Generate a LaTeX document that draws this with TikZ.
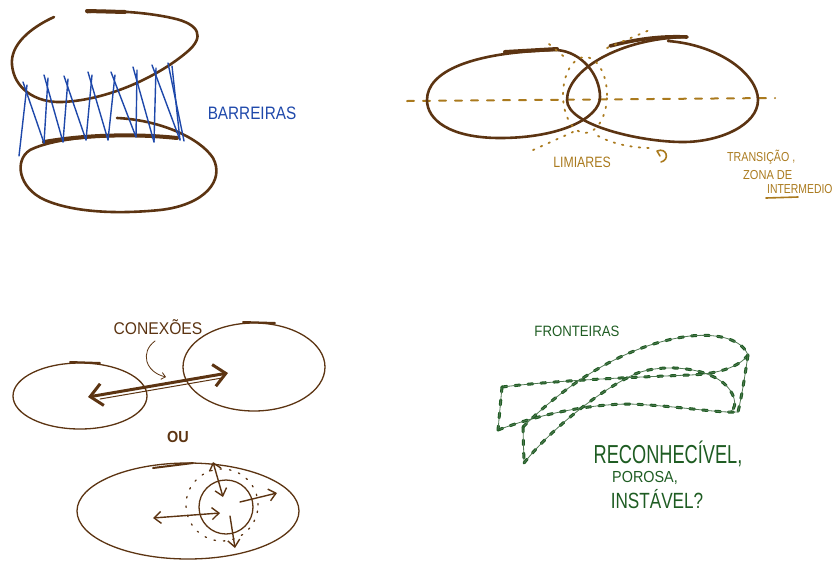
\documentclass[tikz,border=0pt]{standalone}
\usepackage{fontspec}
\usepackage{graphicx}
\setmainfont{Liberation Sans}
\usetikzlibrary{arrows.meta}
\definecolor{sbrown}{RGB}{92,52,18}
\definecolor{sgold}{RGB}{170,122,30}
\definecolor{sblue}{RGB}{30,72,170}
\definecolor{sgreen}{RGB}{30,92,34}
\definecolor{sgreenlt}{RGB}{80,120,82}
\newcommand{\hw}[2]{\scalebox{#1}[1]{#2}}
\begin{document}
\begin{tikzpicture}[x=1pt,y=-1pt,line cap=round,line join=round,
  loopline/.style={draw=sbrown,line width=2.6pt},
  heavy/.style={draw=sbrown,line width=4pt},
  thinloop/.style={draw=sbrown,line width=1.3pt},
  zig/.style={draw=sblue,line width=1.4pt},
  gdash/.style={draw=sgold,line width=2pt,dash pattern=on 7pt off 9pt},
  gdot/.style={draw=sgold,line width=1.8pt,dash pattern=on 1.5pt off 7pt},
  grline/.style={draw=sgreen,line width=3pt,dash pattern=on 5pt off 8pt,
     postaction={draw=sgreenlt,solid,line width=0.8pt}},
  lbl/.style={inner sep=0pt,anchor=center},
  barb/.style={-{Straight Barb[length=7pt,width=12pt]}},
  dbarb/.style={{Straight Barb[length=7pt,width=12pt]}-{Straight Barb[length=7pt,width=12pt]}},
]
\useasboundingbox (0,0) rectangle (833,566);

% ---------------- top-left: barreiras ----------------
\draw[loopline] (54,17) .. controls (30,28) and (10,45) .. (12,65)
  .. controls (14,88) and (35,103) .. (62,102)
  .. controls (110,100) and (160,75) .. (187,52)
  .. controls (205,37) and (200,24) .. (172,18)
  .. controls (145,12) and (110,10) .. (87,12);
\draw[heavy] (87,11) -- (125,12);
\draw[loopline] (117,118) .. controls (160,120) and (200,138) .. (213,158)
  .. controls (225,180) and (205,205) .. (160,210)
  .. controls (120,214) and (75,213) .. (45,200)
  .. controls (18,188) and (14,160) .. (30,150)
  .. controls (60,135) and (130,133) .. (177,138);
\draw[heavy] (44,142) .. controls (90,134) and (140,134) .. (177,138);
\foreach \bx/\by/\tx/\ty/\nx/\ny in {19/156/27/85/44/143, 44/143/48/78/63/142,
  63/142/68/79/86/140, 86/140/92/75/108/140, 108/140/115/75/136/137,
  136/137/137/70/154/142, 154/142/156/68/180/140, 180/140/172/66/184/141}
{ \draw[zig] (\bx,\by) -- (\tx,\ty); \draw[zig] (\tx-4,\ty-3) -- (\nx,\ny); }
\node[lbl,text=sblue,font=\fontsize{18}{18}\selectfont] (barreiras) at (252,113) {\hw{0.85}{BARREIRAS}};

% ---------------- top-right: limiares ----------------
\coordinate (hl) at (407,101);
\coordinate (hr) at (775,98);
\draw[gdash] (hl) -- (hr);
\draw[loopline] (557,50) .. controls (582,52) and (600,75) .. (600,97)
  .. controls (600,118) and (560,138) .. (500,138)
  .. controls (450,138) and (427,120) .. (427,100)
  .. controls (427,72) and (470,52) .. (557,50);
\draw[heavy] (505,52) -- (557,49);
\draw[loopline] (668,41) .. controls (720,45) and (758,75) .. (758,100)
  .. controls (758,125) and (720,142) .. (683,142)
  .. controls (640,142) and (567,125) .. (567,100)
  .. controls (567,70) and (620,38) .. (687,37);
\draw[draw=sbrown,line width=3.6pt] (610,46) .. controls (640,38) and (665,36) .. (687,37);
\draw[gdot] (585,95) ellipse [x radius=22pt,y radius=38pt];
\draw[gdot] (549,44) -- (568,60);
\draw[gdot] (607,48) -- (652,29);
\draw[gdot] (533,150) -- (573,132);
\draw[gdot] (598,136) .. controls (615,145) and (635,148) .. (653,148);
\draw[draw=sgold,line width=1.6pt] (657,151) .. controls (667,147) and (670,160) .. (661,162) (657,151) -- (660,156);
\node[lbl,text=sgold,font=\fontsize{15}{15}\selectfont] (limiares) at (582,162) {\hw{0.82}{LIMIARES}};
\node[lbl,anchor=west,text=sgold,font=\fontsize{13}{13}\selectfont] (transicao) at (727,157) {\hw{0.82}{TRANSIÇÃO ,}};
\node[lbl,anchor=west,text=sgold,font=\fontsize{13}{13}\selectfont] (zona) at (743,175) {\hw{0.85}{ZONA DE}};
\node[lbl,anchor=west,text=sgold,font=\fontsize{13}{13}\selectfont] (interm) at (767,189) {\hw{0.8}{INTERMEDIO}};
\draw[draw=sgold,line width=1.6pt] (766,198) -- (798,197);

% ---------------- bottom-left: conexoes ----------------
\node[lbl,text=sbrown,font=\fontsize{17}{17}\selectfont] (conexoes) at (158,327) {\hw{0.92}{CONEXÕES}};
\coordinate (cs) at (155,341);
\coordinate (ce) at (166,377);
\draw[draw=sbrown,line width=0.8pt,-{Straight Barb[length=4pt,width=7pt]}] (cs) .. controls (140,352) and (145,372) .. (ce);
\draw[thinloop] (80,396) ellipse [x radius=67pt,y radius=33pt];
\draw[draw=sbrown,line width=2pt] (70,362) -- (100,363);
\draw[thinloop] (254,367) ellipse [x radius=71pt,y radius=44pt];
\draw[draw=sbrown,line width=2pt] (243,322) -- (275,323);
\coordinate (da) at (88,397);
\coordinate (db) at (228,373);
\draw[draw=sbrown,line width=3pt,{Straight Barb[length=12pt,width=22pt]}-{Straight Barb[length=12pt,width=22pt]}] (da) -- (db);
\draw[draw=sbrown,line width=1pt] (100,399) -- (222,378);
\node[lbl,text=sbrown,font=\bfseries\fontsize{16}{16}\selectfont] (ou) at (178,437) {\hw{0.9}{OU}};
\draw[thinloop] (188,511) ellipse [x radius=111pt,y radius=48pt];
\draw[draw=sbrown,line width=2pt] (153,468) -- (193,463);
\draw[thinloop] (226,507) circle [radius=27pt];
\draw[draw=sbrown,line width=1.3pt,dash pattern=on 1.5pt off 8pt] (222,505) circle [radius=36pt];
\coordinate (v1) at (213,462);
\coordinate (v2) at (223,497);
\coordinate (r1) at (240,502);
\coordinate (r2) at (277,493);
\coordinate (l1) at (220,513);
\coordinate (l2) at (153,518);
\coordinate (d1) at (230,516);
\coordinate (d2) at (235,548);
\draw[draw=sbrown,line width=1.4pt,dbarb] (v2) -- (v1);
\draw[draw=sbrown,line width=1.4pt,barb] (r1) -- (r2);
\draw[draw=sbrown,line width=1.4pt,dbarb] (l2) -- (l1);
\draw[draw=sbrown,line width=1.4pt,barb] (d1) -- (d2);

% ---------------- bottom-right: fronteiras ----------------
\node[lbl,text=sgreen,font=\fontsize{15}{15}\selectfont] (fronteiras) at (577,331) {\hw{0.88}{FRONTEIRAS}};
\draw[grline] (502,387) .. controls (560,380) and (640,377) .. (690,375)
  .. controls (720,374) and (740,366) .. (748,355);
\draw[grline] (748,355) .. controls (745,375) and (742,395) .. (738,412);
\draw[grline] (498,430) .. controls (540,414) and (590,404) .. (630,404)
  .. controls (680,406) and (715,413) .. (738,412);
\draw[grline] (502,387) -- (498,430);
\draw[grline] (523,427) .. controls (560,390) and (620,345) .. (690,336)
  .. controls (720,333) and (742,340) .. (748,355);
\draw[grline] (523,427) -- (524,463);
\draw[grline] (524,463) .. controls (550,430) and (600,390) .. (635,374)
  .. controls (665,362) and (715,368) .. (730,390)
  .. controls (738,402) and (735,412) .. (727,412);
\node[lbl,text=sgreen,font=\fontsize{26}{26}\selectfont] (recon) at (668,454) {\hw{0.7}{RECONHECÍVEL,}};
\node[lbl,text=sgreen,font=\fontsize{16}{16}\selectfont] (porosa) at (645,478) {\hw{0.9}{POROSA,}};
\node[lbl,text=sgreen,font=\fontsize{22}{22}\selectfont] (instavel) at (657,499) {\hw{0.78}{INSTÁVEL?}};
\end{tikzpicture}
\end{document}
